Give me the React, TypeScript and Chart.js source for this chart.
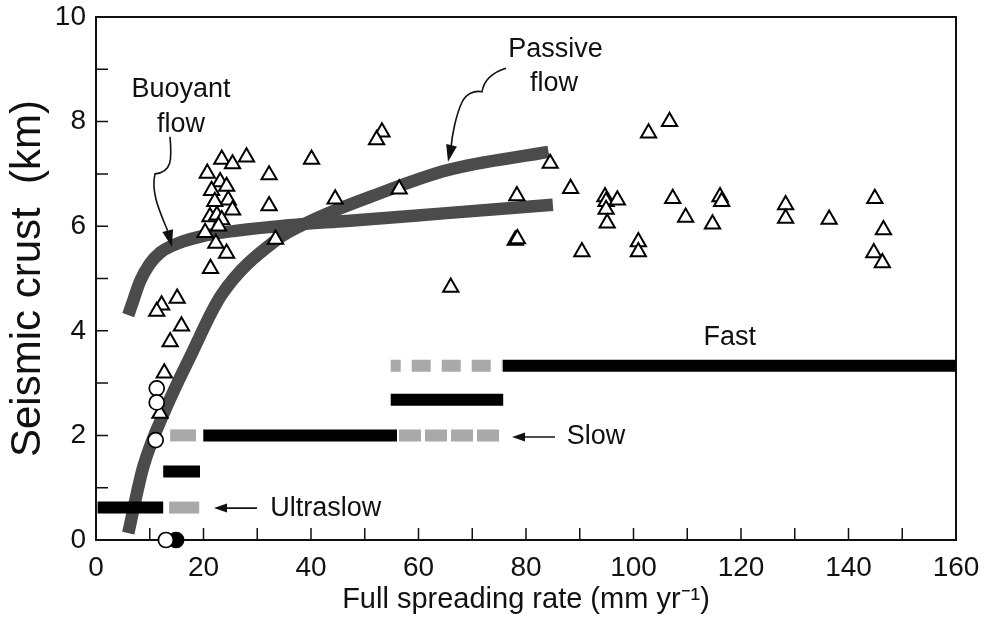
import React, { useEffect, useRef } from 'react';
import { Chart, registerables } from 'chart.js';

Chart.register(...registerables);

// ---------- axes ----------
const xMin = 0;
const xMax = 160;
const xStep = 10;
const yMin = 0;
const yMax = 10;
const yStep = 1;
const xTitle = 'Full spreading rate (mm yr\u207B\u00B9)';
const yTitle = 'Seismic crust  (km)';

// ---------- triangles (seismic crust observations) ----------
const triRate = [
  23.4, 28.0, 25.4, 20.7, 32.2, 23.1, 24.3, 21.5, 24.6, 22.1, 32.2, 25.4, 21.2, 22.5, 23.4, 22.8, 20.3, 22.3, 24.3, 33.4, 21.3,
  15.1, 12.2, 11.3, 15.9, 13.8, 12.7, 11.9,
  53.2, 52.2, 40.1, 44.5, 56.4, 66.0, 84.5, 102.8, 106.7, 78.3, 88.3, 94.7, 94.9, 97.0, 94.9, 95.1, 78.0, 78.4, 90.4,
  100.9, 100.9, 107.3, 109.7, 114.7, 116.1, 116.4, 128.3, 128.3, 136.4, 144.9, 146.5, 144.7, 146.3,
];
const triCrust = [
  7.28, 7.32, 7.19, 7.01, 6.98, 6.85, 6.76, 6.68, 6.50, 6.47, 6.39, 6.31, 6.18, 6.21, 6.12, 6.00, 5.88, 5.67, 5.48, 5.75, 5.19,
  4.62, 4.49, 4.37, 4.09, 3.79, 3.19, 2.42,
  7.80, 7.65, 7.28, 6.52, 6.71, 4.83, 7.20, 7.78, 8.00, 6.58, 6.72, 6.56, 6.47, 6.50, 6.32, 6.06, 5.73, 5.76, 5.51,
  5.70, 5.51, 6.53, 6.17, 6.04, 6.56, 6.47, 6.41, 6.15, 6.13, 6.53, 5.93, 5.49, 5.30,
];

// ---------- circles ----------
const openCircleRate = [11.3, 11.3, 11.1, 13.0];
const openCircleCrust = [2.9, 2.63, 1.91, 0];
const filledCircleRate = [14.9];
const filledCircleCrust = [0];

// ---------- model curves ----------
const buoyantRate = [6.0, 7.0, 8.2, 10.0, 12.0, 14.0, 19.4, 36.0, 46.6, 65.2, 85.0];
const buoyantCrust = [4.3, 4.6, 4.95, 5.28, 5.5, 5.62, 5.8, 6.02, 6.1, 6.25, 6.41];
const passiveRate = [6.0, 8.8, 13.15, 17.5, 23.3, 33.6, 40.4, 51.0, 65.3, 84.2];
const passiveCrust = [0.13, 1.4, 2.55, 3.5, 4.68, 5.74, 6.12, 6.56, 7.07, 7.42];

// ---------- spreading-rate classes (rate ranges at a crust level) ----------
const ultraslowCrust = 0.62;
const ultraslowSolid = [0.3, 12.5];
const ultraslowGray = [13.6, 19.2];
const intermediateCrust = 1.31;
const intermediateSolid = [12.5, 19.35];
const slowCrust = 2.0;
const slowGrayLow = [13.8, 18.6];
const slowSolid = [19.96, 56.0];
const slowGrayHigh = [56.37, 75.35];
const midCrust = 2.68;
const midSolid = [54.83, 75.76];
const fastCrust = 3.33;
const fastGray = [54.83, 75.72];
const fastSolid = [75.72, 160];

// ---------- annotation labels (data coordinates) ----------
const labelTexts = ['Buoyant', 'flow', 'Passive', 'flow', 'Fast', 'Slow', 'Ultraslow'];
const labelRate = [15.8, 15.8, 85.5, 85.2, 117.9, 87.6, 32.4];
const labelCrust = [8.62, 7.95, 9.38, 8.73, 3.88, 1.97, 0.61];
const labelAlign = ['center', 'center', 'center', 'center', 'center', 'left', 'left'];

const slowArrow = [[85.4, 1.97], [77.4, 1.97]];
const ultraslowArrow = [[29.95, 0.61], [21.95, 0.61]];
const buoyantArrow = [[13.77, 7.71], [14.14, 7.27], [14.14, 7.04], [10.98, 7.0], [10.05, 6.6], [12.47, 6.16], [13.4, 5.89]];
const buoyantTip = [14.14, 5.6];
const passiveArrow = [[76.28, 9.02], [74.05, 8.95], [72.19, 8.8], [71.81, 8.57], [70.33, 8.6], [68.84, 8.53], [68.09, 8.37], [66.98, 8.13], [66.23, 7.74], [66.05, 7.5]];
const passiveTip = [65.49, 7.23];

const FONT = '"Liberation Sans", Arial, Helvetica, sans-serif';
const CURVE = '#4b4b4b';
const GRAY = '#a9a9a9';

const pts = (xs: number[], ys: number[]) => xs.map((x, i) => ({ x, y: ys[i] }));
const seg = (r: number[], y: number) => [{ x: r[0], y }, { x: r[1], y }];

function bar(range: number[], y: number, color: string, dash?: number[], dashOffset = 0) {
  return {
    type: 'line' as const,
    data: seg(range, y),
    showLine: true,
    borderColor: color,
    borderWidth: 12,
    borderCapStyle: 'butt' as const,
    borderDash: dash || [],
    borderDashOffset: dashOffset,
    pointRadius: 0,
    order: 4,
    clip: false,
  };
}

function head(ctx: CanvasRenderingContext2D, tx: number, ty: number, fx: number, fy: number, len: number, half: number) {
  const a = Math.atan2(ty - fy, tx - fx);
  const bx = tx - len * Math.cos(a);
  const by = ty - len * Math.sin(a);
  ctx.beginPath();
  ctx.moveTo(tx, ty);
  ctx.lineTo(bx + half * Math.sin(a), by - half * Math.cos(a));
  ctx.lineTo(bx - half * Math.sin(a), by + half * Math.cos(a));
  ctx.closePath();
  ctx.fill();
}

const framePlugin = {
  id: 'frame',
  beforeDatasetsDraw(chart: any) {
    const { ctx, chartArea, scales } = chart;
    const { left, right, top, bottom } = chartArea;
    ctx.save();
    ctx.strokeStyle = '#111';
    ctx.lineWidth = 1.5;
    ctx.beginPath();
    scales.x.ticks.forEach((t: any) => {
      if (t.value <= xMin || t.value >= xMax) return;
      const px = scales.x.getPixelForValue(t.value);
      ctx.moveTo(px, bottom);
      ctx.lineTo(px, bottom - 12);
    });
    scales.y.ticks.forEach((t: any) => {
      if (t.value <= yMin || t.value >= yMax) return;
      const py = scales.y.getPixelForValue(t.value);
      ctx.moveTo(left, py);
      ctx.lineTo(left + 12, py);
    });
    ctx.stroke();
    ctx.lineWidth = 2;
    ctx.strokeRect(left, top, right - left, bottom - top);
    ctx.restore();
  },
};

const annotationPlugin = {
  id: 'annotations',
  afterDraw(chart: any) {
    const { ctx, scales } = chart;
    const X = (v: number) => scales.x.getPixelForValue(v);
    const Y = (v: number) => scales.y.getPixelForValue(v);
    ctx.save();
    ctx.fillStyle = '#111';
    ctx.strokeStyle = '#111';
    ctx.font = `27px ${FONT}`;
    ctx.textBaseline = 'middle';
    labelTexts.forEach((t, i) => {
      ctx.textAlign = labelAlign[i];
      ctx.fillText(t, X(labelRate[i]), Y(labelCrust[i]));
    });
    // straight arrows
    [slowArrow, ultraslowArrow].forEach((a) => {
      const x0 = X(a[0][0]), y0 = Y(a[0][1]), x1 = X(a[1][0]), y1 = Y(a[1][1]);
      ctx.lineWidth = 1.6;
      ctx.beginPath();
      ctx.moveTo(x0, y0);
      ctx.lineTo(x1 + 8, y1);
      ctx.stroke();
      head(ctx, x1, y1, x0, y0, 13, 4.5);
    });
    // curved arrows
    [[buoyantArrow, buoyantTip], [passiveArrow, passiveTip]].forEach(([path, tip]: any) => {
      ctx.lineWidth = 1.6;
      ctx.beginPath();
      ctx.moveTo(X(path[0][0]), Y(path[0][1]));
      for (let i = 1; i + 2 < path.length; i += 3) {
        ctx.bezierCurveTo(
          X(path[i][0]), Y(path[i][1]),
          X(path[i + 1][0]), Y(path[i + 1][1]),
          X(path[i + 2][0]), Y(path[i + 2][1]),
        );
      }
      ctx.stroke();
      const last = path[path.length - 1];
      head(ctx, X(tip[0]), Y(tip[1]), X(last[0]), Y(last[1]), 17, 5.5);
    });
    ctx.restore();
  },
};

export default function App() {
  const canvasRef = useRef<HTMLCanvasElement>(null);

  useEffect(() => {
    if (!canvasRef.current) return;
    const chart = new Chart(canvasRef.current, {
      type: 'scatter',
      data: {
        datasets: [
          {
            label: 'open circles',
            data: pts(openCircleRate, openCircleCrust),
            pointStyle: 'circle',
            pointRadius: 7.5,
            backgroundColor: '#fff',
            borderColor: '#000',
            borderWidth: 1.7,
            order: 0,
            clip: false,
          } as any,
          {
            label: 'filled circles',
            data: pts(filledCircleRate, filledCircleCrust),
            pointStyle: 'circle',
            pointRadius: 7.5,
            backgroundColor: '#000',
            borderColor: '#000',
            borderWidth: 1.7,
            order: 1,
            clip: false,
          } as any,
          {
            label: 'triangles',
            data: pts(triRate, triCrust),
            pointStyle: 'triangle',
            pointRadius: 8.8,
            backgroundColor: '#fff',
            borderColor: '#000',
            borderWidth: 2,
            order: 2,
            clip: false,
          } as any,
          bar(ultraslowSolid, ultraslowCrust, '#000'),
          bar(ultraslowGray, ultraslowCrust, GRAY),
          bar(intermediateSolid, intermediateCrust, '#000'),
          bar(slowGrayLow, slowCrust, GRAY),
          bar(slowSolid, slowCrust, '#000'),
          bar(slowGrayHigh, slowCrust, GRAY, [22, 4]),
          bar(midSolid, midCrust, '#000'),
          bar(fastGray, fastCrust, GRAY, [19, 11], 9),
          bar(fastSolid, fastCrust, '#000'),
          {
            type: 'line',
            label: 'Buoyant flow',
            data: pts(buoyantRate, buoyantCrust),
            showLine: true,
            borderColor: CURVE,
            borderWidth: 12.5,
            borderCapStyle: 'butt',
            cubicInterpolationMode: 'monotone',
            pointRadius: 0,
            order: 5,
          } as any,
          {
            type: 'line',
            label: 'Passive flow',
            data: pts(passiveRate, passiveCrust),
            showLine: true,
            borderColor: CURVE,
            borderWidth: 12.5,
            borderCapStyle: 'butt',
            cubicInterpolationMode: 'monotone',
            pointRadius: 0,
            order: 5,
          } as any,
        ],
      },
      options: {
        animation: false,
        responsive: false,
        layout: { padding: { left: 0, right: 29, top: 17, bottom: 0 } },
        plugins: { legend: { display: false }, tooltip: { enabled: false } },
        scales: {
          x: {
            type: 'linear',
            min: xMin,
            max: xMax,
            grid: { display: false, drawTicks: false },
            border: { display: false },
            ticks: {
              stepSize: xStep,
              autoSkip: false,
              maxRotation: 0,
              padding: 11,
              color: '#111',
              font: { family: FONT, size: 28 },
              callback: (v: any) => (Number(v) % 20 === 0 ? String(v) : ''),
            },
            title: {
              display: true,
              text: xTitle,
              color: '#111',
              font: { family: FONT, size: 29 },
              padding: { top: 0, bottom: 2 },
            },
            afterFit: (s: any) => {
              s.height = 79;
              s.paddingLeft = 0;
              s.paddingRight = 0;
            },
          },
          y: {
            type: 'linear',
            min: yMin,
            max: yMax,
            grid: { display: false, drawTicks: false },
            border: { display: false },
            ticks: {
              stepSize: yStep,
              autoSkip: false,
              padding: 10,
              color: '#111',
              font: { family: FONT, size: 28 },
              callback: (v: any) => (Number(v) % 2 === 0 ? String(v) : ''),
            },
            title: {
              display: true,
              text: yTitle,
              color: '#111',
              font: { family: FONT, size: 42 },
              padding: { top: 3, bottom: 0 },
            },
            afterFit: (s: any) => {
              s.width = 96;
              s.paddingTop = 0;
              s.paddingBottom = 0;
            },
          },
        },
      } as any,
      plugins: [framePlugin, annotationPlugin],
    });
    return () => chart.destroy();
  }, []);

  return (
    <div style={{ position: 'absolute', left: 0, top: 0, width: 985, height: 619, background: '#fff' }}>
      <canvas ref={canvasRef} width={985} height={619} style={{ width: 985, height: 619 }} />
    </div>
  );
}
